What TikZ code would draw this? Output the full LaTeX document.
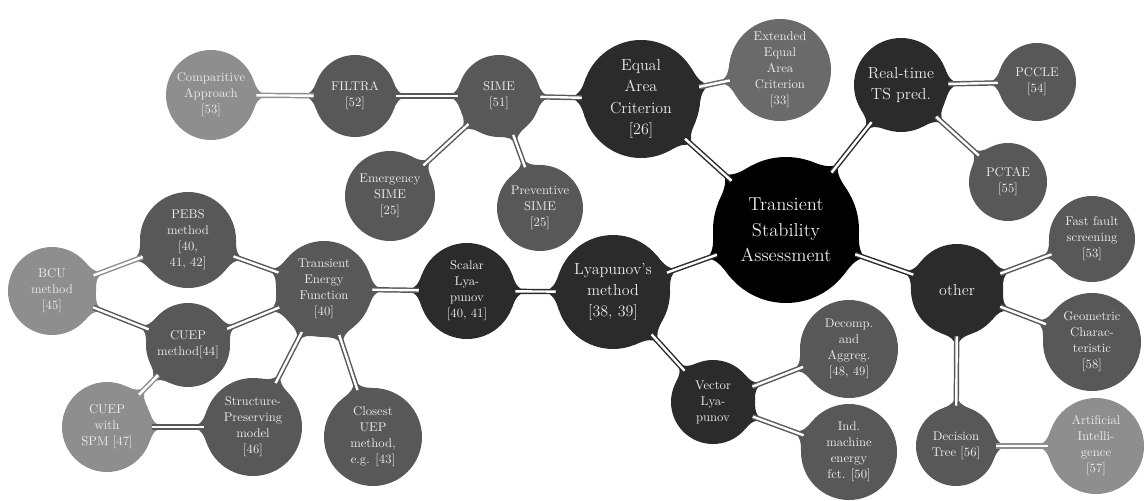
\documentclass[tikz,border=0pt]{standalone}
\usetikzlibrary{calc,backgrounds}
\definecolor{cDark}{HTML}{2B2B2B}
\definecolor{cMid}{HTML}{585858}
\definecolor{cMidL}{HTML}{6A6A6A}
\definecolor{cLight}{HTML}{8E8E8E}
\tikzset{
  bubble/.style={circle, inner sep=0pt, text=white!92!black, align=center},
  fR/.style={font=\fontsize{14}{19}\selectfont},
  fA/.style={font=\fontsize{12}{16}\selectfont},
  fB/.style={font=\fontsize{9.5}{12}\selectfont},
  link/.style={line width=1.1pt, double=white, double distance=1.8pt},
}
\newcommand\mnode[7]{%
  \expandafter\xdef\csname nodeR#1\endcsname{#4}%
  \expandafter\xdef\csname nodeC#1\endcsname{#5}%
  \node[bubble, fill=#5, minimum size=#4*1.5pt, #6] (#1) at (#2,#3) {#7};%
}
\newcommand\fillet[4]{%
  \fill[#4] let \p1=($(#2)-(#1)$), \n1={atan2(\y1,\x1)}, \n2={#3*0.75pt} in
    ($(#1)+(\n1+20:\n2)$) .. controls ($(#1)+(\n1+6:\n2+1pt)$) and ($(#1)+(\n1+3:\n2+3pt)$) .. ($(#1)+(\n1:\n2+8pt)$)
    .. controls ($(#1)+(\n1-3:\n2+3pt)$) and ($(#1)+(\n1-6:\n2+1pt)$) .. ($(#1)+(\n1-20:\n2)$) -- cycle;%
}
\newcommand\conn[2]{%
  \edef\ra{\csname nodeR#1\endcsname}%
  \edef\rb{\csname nodeR#2\endcsname}%
  \edef\ca{\csname nodeC#1\endcsname}%
  \edef\cb{\csname nodeC#2\endcsname}%
  \fillet{#1}{#2}{\ra}{\ca}%
  \fillet{#2}{#1}{\rb}{\cb}%
  \draw[link, draw=\cb] (#1) -- (#2);%
}
\begin{document}
\begin{tikzpicture}[x=0.75pt, y=-0.75pt]
\useasboundingbox (0,0) rectangle (1144,500);
\mnode{root}{786}{230}{73}{black}{fR}{Transient\\Stability\\Assessment}
\mnode{eac}{641}{99}{59}{cDark}{fA}{Equal\\Area\\Criterion\\{[26]}}
\mnode{eeac}{780}{70}{51}{cMidL}{fB}{Extended\\Equal\\Area\\Criterion\\{[33]}}
\mnode{rt}{901}{85}{47}{cDark}{fA}{Real-time\\TS pred.}
\mnode{pccle}{1037}{82}{39}{cMid}{fB}{PCCLE\\{[54]}}
\mnode{pctae}{1008}{182}{39}{cMid}{fB}{PCTAE\\{[55]}}
\mnode{ffs}{1092}{239}{43}{cMid}{fB}{Fast fault\\screening\\{[53]}}
\mnode{other}{957}{290}{46}{cDark}{fA}{other}
\mnode{geo}{1092}{342}{49}{cMid}{fB}{Geometric\\Charac-\\teristic\\{[58]}}
\mnode{dtree}{956}{446}{40}{cMid}{fB}{Decision\\Tree [56]}
\mnode{ai}{1096}{446}{48}{cLight}{fB}{Artificial\\Intelli-\\gence\\{[57]}}
\mnode{lyap}{613}{292}{57}{cDark}{fA}{Lyapunov's\\method\\{[38, 39]}}
\mnode{vec}{713}{402}{42}{cDark}{fB}{Vector\\Lya-\\punov}
\mnode{decomp}{849}{349}{49}{cMid}{fB}{Decomp.\\and\\Aggreg.\\{[48, 49]}}
\mnode{ind}{849}{452}{48}{cMid}{fB}{Ind.\\machine\\energy\\fct. [50]}
\mnode{scalar}{467}{291}{48}{cDark}{fB}{Scalar\\Lya-\\punov\\{[40, 41]}}
\mnode{tef}{324}{289}{48}{cMid}{fB}{Transient\\Energy\\Function\\{[40]}}
\mnode{pebs}{188}{240}{48}{cMid}{fB}{PEBS\\method\\{[40,}\\41, 42]}
\mnode{bcu}{52}{291}{44}{cLight}{fB}{BCU\\method\\{[45]}}
\mnode{cuep}{188}{345}{42}{cMid}{fB}{CUEP\\method[44]}
\mnode{cuepspm}{107}{427}{45}{cLight}{fB}{CUEP\\with\\SPM [47]}
\mnode{spm}{253}{427}{49}{cMid}{fB}{Structure-\\Preserving\\model\\{[46]}}
\mnode{closest}{373}{437}{49}{cMid}{fB}{Closest\\UEP\\method,\\e.g. [43]}
\mnode{sime}{499}{96}{41}{cMid}{fB}{SIME\\{[51]}}
\mnode{filtra}{355}{96}{41}{cMid}{fB}{FILTRA\\{[52]}}
\mnode{comp}{211}{95}{45}{cLight}{fB}{Comparitive\\Approach\\{[53]}}
\mnode{emerg}{390}{196}{45}{cMid}{fB}{Emergency\\SIME\\{[25]}}
\mnode{prev}{540}{208}{43}{cMid}{fB}{Preventive\\SIME\\{[25]}}
\begin{pgfonlayer}{background}
\conn{root}{eac}
\conn{root}{rt}
\conn{root}{lyap}
\conn{root}{other}
\conn{eac}{eeac}
\conn{eac}{sime}
\conn{sime}{filtra}
\conn{filtra}{comp}
\conn{sime}{emerg}
\conn{sime}{prev}
\conn{rt}{pccle}
\conn{rt}{pctae}
\conn{other}{ffs}
\conn{other}{geo}
\conn{other}{dtree}
\conn{dtree}{ai}
\conn{lyap}{scalar}
\conn{lyap}{vec}
\conn{vec}{decomp}
\conn{vec}{ind}
\conn{scalar}{tef}
\conn{tef}{pebs}
\conn{tef}{cuep}
\conn{tef}{spm}
\conn{tef}{closest}
\conn{pebs}{bcu}
\conn{bcu}{cuep}
\conn{cuep}{cuepspm}
\conn{cuepspm}{spm}
\end{pgfonlayer}
\end{tikzpicture}
\end{document}
